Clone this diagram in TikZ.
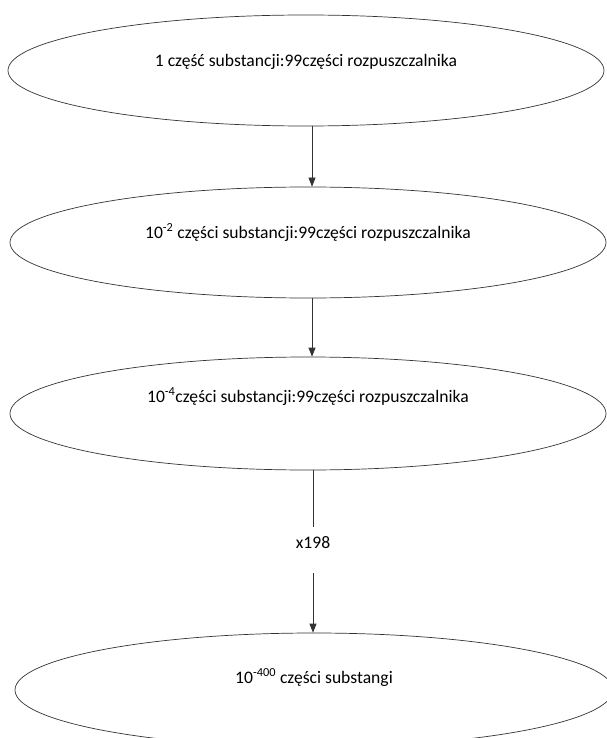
\documentclass[tikz,border=0pt]{standalone}
\usepackage{fontspec}
\setmainfont{Carlito}
\usetikzlibrary{arrows.meta,shapes.geometric}

\begin{document}
\begin{tikzpicture}[x=1pt, y=-1pt,
  stage/.style={ellipse, draw=black!80, line width=0.7pt, inner sep=0pt,
    minimum width=596pt, minimum height=111pt, text height=8pt,
    font=\fontsize{17.6}{20}\selectfont},
  flow/.style={draw=black!80, line width=0.7pt},
  flowarrow/.style={flow, -{Triangle[length=9pt,width=7pt]}}]
\useasboundingbox (0,0) rectangle (606,738);

% Dilution stages
\node[stage, text depth=15pt] (s1) at (306,70.5) {1 część substancji:99części rozpuszczalnika};
\node[stage, text depth=17pt] (s2) at (308,242.5) {10\textsuperscript{-2} części substancji:99części rozpuszczalnika};
\node[stage, text depth=31pt, minimum height=113pt] (s3) at (308,413.5) {10\textsuperscript{-4}części substancji:99części rozpuszczalnika};
\node[stage, text depth=22pt, minimum width=598pt, minimum height=114pt] (s4) at (314,690) {10\textsuperscript{-400} części substangi};

% Repeat count between the last two stages
\node[inner sep=0pt, minimum height=46pt, text height=8pt, text depth=12pt,
  font=\fontsize{17.6}{20}\selectfont] (rep) at (313,550) {x198};

% Arrows
\draw[flowarrow] ([xshift=6pt]s1.south) -- ([xshift=4pt]s2.north);
\draw[flowarrow] ([xshift=4pt]s2.south) -- ([xshift=4pt]s3.north);
\draw[flow] ([xshift=5pt]s3.south) -- (rep.north);
\draw[flowarrow] (rep.south) -- ([xshift=-1pt]s4.north);
\end{tikzpicture}
\end{document}
